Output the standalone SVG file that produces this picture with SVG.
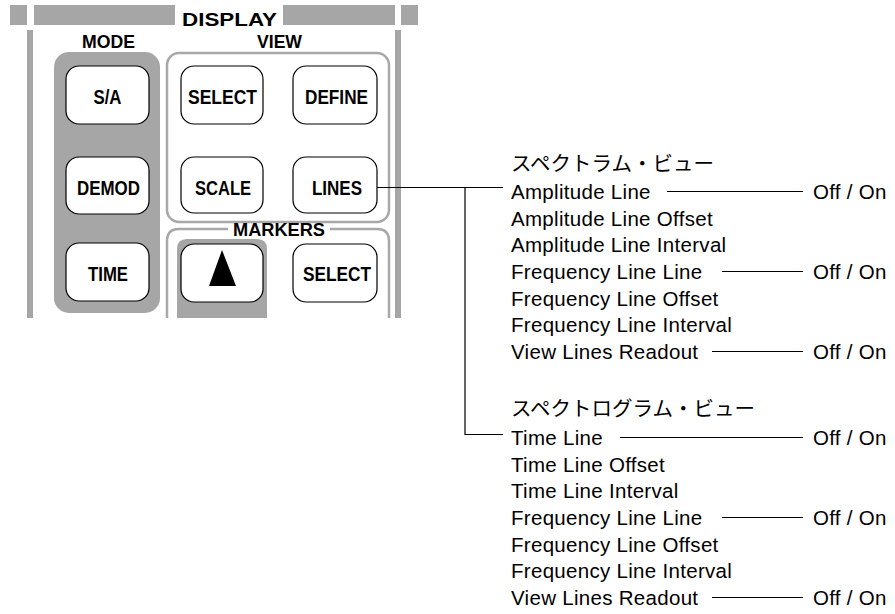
<svg xmlns="http://www.w3.org/2000/svg" width="895" height="614" viewBox="0 0 895 614">
<style>
.bar{fill:#a6a6a6}
.grp{fill:none;stroke:#a8a8a8;stroke-width:2.5}
.btn{fill:#fff;stroke:#000;stroke-width:1.2}
.bl{font-family:"Liberation Sans",Arial,sans-serif;font-weight:bold;font-size:21px;text-anchor:middle;fill:#000}
.hd{font-family:"Liberation Sans",Arial,sans-serif;font-weight:bold;font-size:18px;text-anchor:middle;fill:#000}
.tx{font-family:"Liberation Sans",Arial,sans-serif;font-size:20.5px;letter-spacing:0.3px;fill:#000}
.jp{font-family:"Liberation Sans","Noto Sans CJK JP",sans-serif;font-size:20.5px;fill:#000}
.ln{fill:none;stroke:#000;stroke-width:1.2}
</style>
<rect width="895" height="614" fill="#fff"/>
<g id="panel">
  <rect class="bar" x="10" y="5" width="17" height="20"/>
  <rect class="bar" x="34" y="5" width="141" height="20"/>
  <rect class="bar" x="283" y="5" width="112" height="20"/>
  <rect class="bar" x="401" y="5" width="17" height="20"/>
  <rect class="bar" x="27" y="30" width="6" height="288"/>
  <rect class="bar" x="395" y="30" width="6" height="288"/>
  <text class="hd" x="229.5" y="26" font-size="24" textLength="95" lengthAdjust="spacingAndGlyphs">DISPLAY</text>
  <text class="hd" x="108.5" y="48" textLength="53" lengthAdjust="spacingAndGlyphs">MODE</text>
  <text class="hd" x="279.5" y="48" textLength="45" lengthAdjust="spacingAndGlyphs">VIEW</text>
  <rect class="bar" x="54" y="52" width="106" height="261" rx="15"/>
  <rect class="grp" x="167" y="53" width="222" height="169" rx="12"/>
  <path class="grp" d="M167,318 V241 Q167,229 179,229 H228 M330,229 H377 Q389,229 389,241 V318"/>
  <text class="hd" x="279" y="236" textLength="92" lengthAdjust="spacingAndGlyphs">MARKERS</text>
  <path class="bar" d="M177,318 V249 Q177,239 187,239 H257 Q267,239 267,249 V318 Z"/>
</g>
<g id="btn-sa"><rect class="btn" x="66" y="66" width="83" height="58" rx="13"/><text class="bl" x="107.5" y="104" textLength="28" lengthAdjust="spacingAndGlyphs">S/A</text></g>
<g id="btn-demod"><rect class="btn" x="66" y="157" width="83" height="57" rx="13"/><text class="bl" x="108.5" y="195" textLength="63" lengthAdjust="spacingAndGlyphs">DEMOD</text></g>
<g id="btn-time"><rect class="btn" x="66" y="243" width="83" height="58" rx="13"/><text class="bl" x="108" y="281" textLength="40" lengthAdjust="spacingAndGlyphs">TIME</text></g>
<g id="btn-select-view"><rect class="btn" x="181" y="66" width="82" height="58" rx="13"/><text class="bl" x="222.5" y="104" textLength="69" lengthAdjust="spacingAndGlyphs">SELECT</text></g>
<g id="btn-define"><rect class="btn" x="293" y="66" width="84" height="58" rx="13"/><text class="bl" x="336.5" y="104" textLength="63" lengthAdjust="spacingAndGlyphs">DEFINE</text></g>
<g id="btn-scale"><rect class="btn" x="181" y="157" width="82" height="56" rx="13"/><text class="bl" x="223" y="195" textLength="56" lengthAdjust="spacingAndGlyphs">SCALE</text></g>
<g id="btn-lines"><rect class="btn" x="293" y="157" width="84" height="56" rx="13"/><text class="bl" x="337" y="195" textLength="50" lengthAdjust="spacingAndGlyphs">LINES</text></g>
<g id="btn-up"><rect class="btn" x="181" y="244" width="82" height="58" rx="13"/><polygon points="222,250 209,286 236,286" fill="#000"/></g>
<g id="btn-select-markers"><rect class="btn" x="293" y="244" width="84" height="58" rx="13"/><text class="bl" x="337" y="281" textLength="68" lengthAdjust="spacingAndGlyphs">SELECT</text></g>
<g id="connectors">
  <path class="ln" d="M377,187.5 H503 M465,187.5 V434.5 H503"/>
  <path class="ln" d="M667,191.5 H803 M722,271.5 H803 M712,351.5 H803 M620,437.5 H803 M722,517.5 H803 M712,597.5 H803"/>
</g>
<g id="spectrum-view">
  <text class="jp" x="511" y="171">スペクトラム・ビュー</text>
  <text class="tx" x="511" y="199">Amplitude Line</text>
  <text class="tx" x="511" y="225.7">Amplitude Line Offset</text>
  <text class="tx" x="511" y="252.3">Amplitude Line Interval</text>
  <text class="tx" x="511" y="279">Frequency Line Line</text>
  <text class="tx" x="511" y="305.7">Frequency Line Offset</text>
  <text class="tx" x="511" y="332.3">Frequency Line Interval</text>
  <text class="tx" x="511" y="359">View Lines Readout</text>
</g>
<g id="spectrogram-view">
  <text class="jp" x="511" y="416">スペクトログラム・ビュー</text>
  <text class="tx" x="511" y="445">Time Line</text>
  <text class="tx" x="511" y="471.7">Time Line Offset</text>
  <text class="tx" x="511" y="498.3">Time Line Interval</text>
  <text class="tx" x="511" y="525">Frequency Line Line</text>
  <text class="tx" x="511" y="551.7">Frequency Line Offset</text>
  <text class="tx" x="511" y="578.3">Frequency Line Interval</text>
  <text class="tx" x="511" y="605">View Lines Readout</text>
</g>
<g id="values">
  <text class="tx" x="813" y="199">Off / On</text>
  <text class="tx" x="813" y="279">Off / On</text>
  <text class="tx" x="813" y="359">Off / On</text>
  <text class="tx" x="813" y="445">Off / On</text>
  <text class="tx" x="813" y="525">Off / On</text>
  <text class="tx" x="813" y="605">Off / On</text>
</g>
</svg>
